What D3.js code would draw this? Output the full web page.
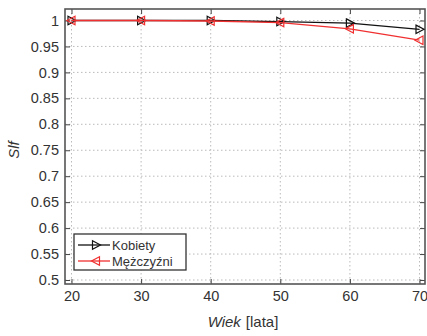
<!DOCTYPE html>
<html><head><meta charset="utf-8">
<script src="https://cdn.jsdelivr.net/npm/d3@7"></script>
<style>body{margin:0;background:#fff}svg{display:block}text{font-family:"Liberation Sans",Arial,sans-serif;fill:#333}</style>
</head><body><svg id="c" width="427" height="336"></svg>
<script>
const ages = [20, 30, 40, 50, 60, 70];
const kobiety = [1, 1, 1, 0.998, 0.995, 0.983];
const mezczyzni = [1, 1, 0.999, 0.996, 0.984, 0.962];
const xTicks = [20, 30, 40, 50, 60, 70];
const yTicks = [0.5, 0.55, 0.6, 0.65, 0.7, 0.75, 0.8, 0.85, 0.9, 0.95, 1];
const seriesNames = ["Kobiety", "Mężczyźni"];
const seriesColors = ["#111", "#f03030"];

const svg = d3.select("#c");
const L = 65, R = 425, T = 9, B = 284;
const x = d3.scaleLinear().domain([20, 70]).range([71.5, 419.5]);
const y = d3.scaleLinear().domain([0.5, 1]).range([280, 20.5]);

// grid
const g = svg.append("g");
g.selectAll(".gx").data(xTicks).join("line")
  .attr("x1", d => x(d)).attr("x2", d => x(d)).attr("y1", T).attr("y2", B)
  .attr("stroke", "#bbb").attr("stroke-dasharray", "1.5,2.5");
g.selectAll(".gy").data(yTicks).join("line")
  .attr("y1", d => y(d)).attr("y2", d => y(d)).attr("x1", L).attr("x2", R)
  .attr("stroke", "#bbb").attr("stroke-dasharray", "1.5,2.5");

// axes with inward ticks
const fs = "14.5px";
const xa = svg.append("g").attr("transform", `translate(0,${B})`)
  .call(d3.axisBottom(x).tickValues(xTicks).tickSizeInner(-5).tickSizeOuter(0).tickPadding(7));
const xt = svg.append("g").attr("transform", `translate(0,${T})`)
  .call(d3.axisTop(x).tickValues(xTicks).tickSizeInner(-5).tickSizeOuter(0).tickFormat(""));
const ya = svg.append("g").attr("transform", `translate(${L},0)`)
  .call(d3.axisLeft(y).tickValues(yTicks).tickSizeInner(-5).tickSizeOuter(0).tickPadding(6).tickFormat(d => d3.format("")(+d.toFixed(2))));
const yr = svg.append("g").attr("transform", `translate(${R},0)`)
  .call(d3.axisRight(y).tickValues(yTicks).tickSizeInner(-5).tickSizeOuter(0).tickFormat(""));
[xa, xt, ya, yr].forEach(a => {
  a.selectAll("path").remove();
  a.selectAll("line").attr("stroke", "#444");
  a.selectAll("text").style("font-size", fs).attr("fill", "#333");
});
// frame
svg.append("rect").attr("x", L).attr("y", T).attr("width", R - L).attr("height", B - T)
  .attr("fill", "none").attr("stroke", "#555").attr("stroke-width", 1.6);

// series
const line = d3.line().x((d, i) => x(ages[i])).y(d => y(d));
const tri = (dir) => dir > 0 ? "M-3.5,-4.2L4.5,0L-3.5,4.2Z" : "M3.5,-4.2L-4.5,0L3.5,4.2Z";
[[kobiety, 1], [mezczyzni, -1]].forEach(([vals, dir], si) => {
  svg.append("path").datum(vals).attr("d", line).attr("fill", "none")
    .attr("stroke", seriesColors[si]).attr("stroke-width", 1.3);
  svg.append("g").selectAll("path").data(vals).join("path")
    .attr("transform", (d, i) => `translate(${x(ages[i])},${y(d)})`)
    .attr("d", tri(dir)).attr("fill", "none").attr("stroke", seriesColors[si]).attr("stroke-width", 1.2);
});

// legend
const lg = svg.append("g");
lg.append("rect").attr("x", 74).attr("y", 234).attr("width", 112).attr("height", 36)
  .attr("fill", "#fff").attr("stroke", "#333").attr("stroke-width", 1.3);
seriesNames.forEach((n, i) => {
  const yy = 245 + i * 16;
  lg.append("line").attr("x1", 78).attr("x2", 110).attr("y1", yy).attr("y2", yy)
    .attr("stroke", seriesColors[i]).attr("stroke-width", 1.3);
  lg.append("path").attr("transform", `translate(96,${yy})`).attr("d", tri(i === 0 ? 1 : -1))
    .attr("fill", "none").attr("stroke", seriesColors[i]).attr("stroke-width", 1.2);
  lg.append("text").attr("x", 112).attr("y", yy + 4.5).style("font-size", "13px").text(n);
});

// titles
const xl = svg.append("text").attr("x", 243).attr("y", 327).attr("text-anchor", "middle").style("font-size", "15px");
xl.append("tspan").attr("font-style", "italic").text("Wiek");
xl.append("tspan").attr("dx", 5).text("[lata]");
svg.append("text").attr("transform", "translate(19,150) rotate(-90)").attr("text-anchor", "middle")
  .attr("font-style", "italic").style("font-size", "15px").text("Slf");
</script></body></html>
